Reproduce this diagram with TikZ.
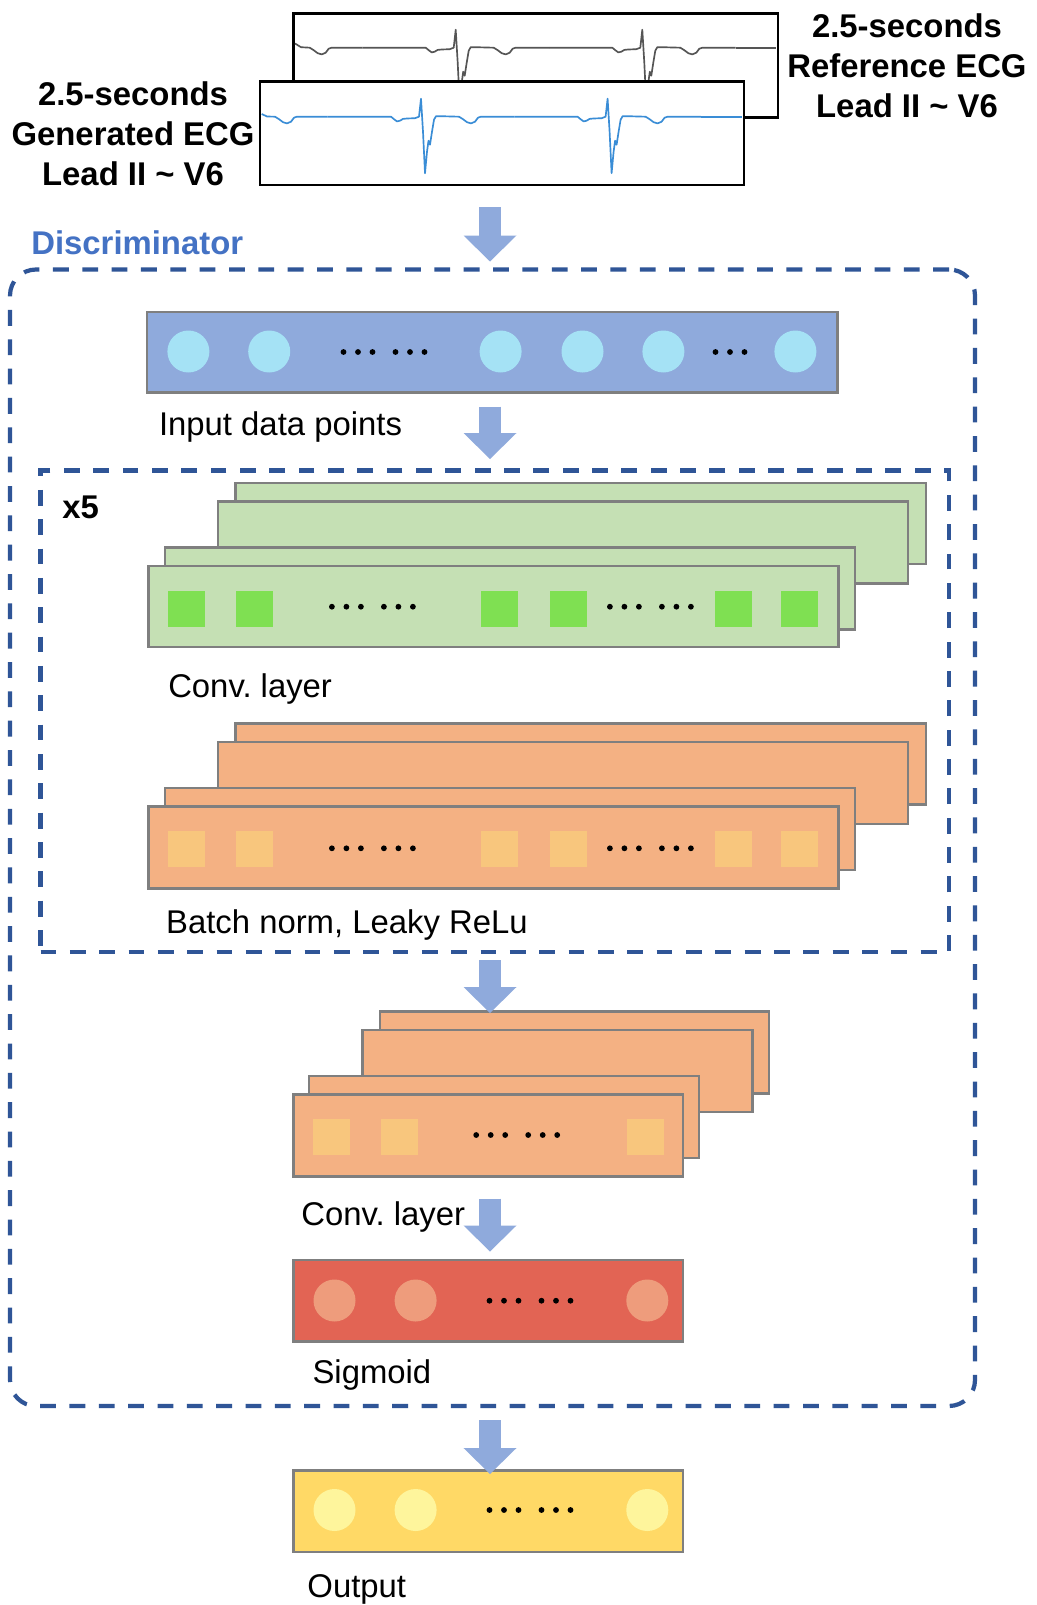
\documentclass[tikz,border=0pt]{standalone}
\usepackage{fontspec}
\setmainfont{Liberation Sans}
\usetikzlibrary{arrows.meta,fit}

\definecolor{dashblue}{HTML}{2F5597}
\definecolor{titleblue}{HTML}{4472C4}
\definecolor{arrowblue}{HTML}{8FAADC}
\definecolor{inputfill}{HTML}{8FAADC}
\definecolor{inputdot}{HTML}{A5E2F5}
\definecolor{layerline}{HTML}{7F7F7F}
\definecolor{convfill}{HTML}{C5E0B4}
\definecolor{convcell}{HTML}{7FE052}
\definecolor{bnfill}{HTML}{F4B183}
\definecolor{bncell}{HTML}{F8C67D}
\definecolor{sigfill}{HTML}{E26454}
\definecolor{sigdot}{HTML}{EE9C7C}
\definecolor{outfill}{HTML}{FFD966}
\definecolor{outdot}{HTML}{FEF59C}
\definecolor{ecggray}{HTML}{555555}
\definecolor{ecgblue}{HTML}{3A8DD6}

\frenchspacing

% six dots "... ..." centred at (#1,#2)
\newcommand{\sixdots}[2]{\foreach \d in {-40.5,-26,-11.5,11.5,26,40.5} {\fill ({#1+\d},#2) circle[radius=2.9];}}
% three dots "..." centred at (#1,#2)
\newcommand{\threedots}[2]{\foreach \d in {-14.5,0,14.5} {\fill ({#1+\d},#2) circle[radius=2.9];}}

\begin{document}
\begin{tikzpicture}[x=0.02cm,y=-0.02cm,
  txt/.style={anchor=west, inner sep=0pt, font=\fontsize{18.7}{22.7}\selectfont},
  boldtxt/.style={inner sep=0pt, align=center, font=\fontsize{18.7}{22.7}\selectfont\bfseries},
  ecgbox/.style={draw=black, fill=white, line width=1.4pt, inner sep=0pt},
  ecgref/.style={draw=ecggray, line width=0.95pt, line join=round},
  ecggen/.style={draw=ecgblue, line width=0.95pt, line join=round},
  dashbox/.style={draw=dashblue, line width=2.4pt, dash pattern=on 9pt off 7.7pt, inner sep=0pt},
  layer/.style={draw=layerline, line width=1.3pt, inner sep=0pt},
  blockarrow/.style={draw=arrowblue, line width=0.44cm,
    -{Triangle[width=1.06cm,length=0.52cm,line width=0pt]}},
  ecgbeat/.pic={
    \draw[#1] (-93.3,0) -- (-30,0) -- (-27,2.5) -- (-24,4.7) -- (-21,4) -- (-18,2.2)
      -- (-14,1.8) -- (-6,1.5) -- (-2,0) -- (0,-18) -- (2,15) -- (4,56.5) -- (6,35)
      -- (7.5,24) -- (9,28) -- (11,15) -- (13,3) -- (15,-0.5) -- (20,-0.5) -- (38,0)
      -- (42,2.5) -- (46,5.5) -- (50,6.7) -- (54,5) -- (57,1) -- (60,0) -- (93.3,0);
  }]

\fill[white] (0,0) rectangle (1037,1605);
\useasboundingbox (0,0) rectangle (1037,1605);

% ---- reference ECG strip ----
\node[ecgbox, fit={(293.5,13.5) (778,117.5)}] (refecg) {};
\draw[ecgref] (295,43.5) -- (301,47.2) -- (309.7,47.7) -- (313.7,50.2) -- (317.7,53.2)
  -- (321.7,54.4) -- (325.7,52.7) -- (328.7,48.7) -- (331.7,47.7) -- (362.4,47.7);
\pic at (455.7,47.7) {ecgbeat=ecgref};
\pic at (642.3,47.7) {ecgbeat=ecgref};
\draw[ecgref] (735.6,47.7) -- (775.7,47.7);

% ---- generated ECG strip ----
\node[ecgbox, fit={(260,81.5) (744,185)}] (genecg) {};
\draw[ecggen] (261.7,114) -- (267,116.5) -- (275,116.7) -- (279,119.2) -- (283,122.2)
  -- (287,123.4) -- (291,121.7) -- (294,117.7) -- (297,116.7) -- (327.7,116.7);
\pic at (421,116.7) {ecgbeat=ecggen};
\pic at (607.6,116.7) {ecgbeat=ecggen};
\draw[ecggen] (700.9,116.7) -- (741.7,116.7);

\node[boldtxt] (genlabel) at (133,134) {2.5-seconds\\Generated ECG\\Lead II \textasciitilde{} V6};
\node[boldtxt] (reflabel) at (907,65.5) {2.5-seconds\\Reference ECG\\Lead II \textasciitilde{} V6};

% ---- discriminator frame ----
\node[txt, font=\fontsize{18.7}{22.7}\selectfont\bfseries, text=titleblue] (disclabel) at (31,243) {Discriminator};
\node[dashbox, rounded corners=0.52cm, fit={(10,269.5) (975,1406)}] (disc) {};
\node[dashbox, fit={(40.5,470.5) (949,952)}] (repeat) {};
\node[txt, font=\fontsize{18.7}{22.7}\selectfont\bfseries] (times) at (62,507) {x5};

% ---- input layer ----
\node[layer, fill=inputfill, fit={(147,312) (837.5,392.5)}] (input) {};
\foreach \x in {188.4,269.2,500.6,582.5,663.4,795.4}
  \fill[inputdot] (\x,351.5) circle[radius=21];
\sixdots{384}{352}
\threedots{730}{352}
\node[txt] (inputlabel) at (158.7,427.5) {Input data points};

% ---- repeated convolution block ----
\node[layer, fill=convfill, fit={(235.5,483) (926,564)}] (convD) {};
\node[layer, fill=convfill, fit={(218,501.5) (908,583.5)}] (convC) {};
\node[layer, fill=convfill, fit={(165,547.5) (855,629.5)}] (convB) {};
\node[layer, fill=convfill, fit={(148.5,566) (838.5,647)}] (convA) {};
\foreach \x in {186.3,254,499.7,568.2,733,799.5}
  \fill[convcell] ({\x-18.5},590.5) rectangle ({\x+18.5},626.5);
\sixdots{372.4}{606.7}
\sixdots{650.4}{606.7}
\node[txt] (convlabel) at (167.9,688.5) {Conv. layer};

\node[layer, fill=bnfill, fit={(235.5,723.5) (926,804.5)}] (bnD) {};
\node[layer, fill=bnfill, fit={(218,742) (908,824)}] (bnC) {};
\node[layer, fill=bnfill, fit={(165,788) (855,870)}] (bnB) {};
\node[layer, fill=bnfill, fit={(148.5,806.5) (838.5,888.5)}] (bnA) {};
\foreach \x in {186.3,254,499.7,568.2,733,799.5}
  \fill[bncell] ({\x-18.5},831) rectangle ({\x+18.5},867);
\sixdots{372.4}{848.3}
\sixdots{650.4}{848.3}
\node[txt] (bnlabel) at (165.8,925.3) {Batch norm, Leaky ReLu};

% ---- final convolution ----
\node[layer, fill=bnfill, fit={(380,1011.5) (769,1093.5)}] (lastD) {};
\node[layer, fill=bnfill, fit={(362.5,1030) (752.5,1112)}] (lastC) {};
\node[layer, fill=bnfill, fit={(309,1076) (699,1158)}] (lastB) {};
\node[layer, fill=bnfill, fit={(293.5,1094.5) (683,1176.5)}] (lastA) {};
\foreach \x in {331,399.2,645}
  \fill[bncell] ({\x-18.5},1118.5) rectangle ({\x+18.5},1154.5);
\sixdots{516.7}{1135}
\node[txt] (lastlabel) at (301,1217) {Conv. layer};

% ---- sigmoid ----
\node[layer, fill=sigfill, fit={(293.5,1260) (683,1341.5)}] (sigmoid) {};
\foreach \x in {334.5,415.6,647.3}
  \fill[sigdot] (\x,1300.5) circle[radius=21];
\sixdots{530}{1300.7}
\node[txt] (siglabel) at (312.2,1374.5) {Sigmoid};

% ---- output ----
\node[layer, fill=outfill, fit={(293.5,1470.5) (683,1552)}] (output) {};
\foreach \x in {334.5,415.6,647.3}
  \fill[outdot] (\x,1510) circle[radius=21];
\sixdots{530}{1510}
\node[txt] (outlabel) at (307.1,1589.5) {Output};

% ---- flow arrows ----
\coordinate (a1s) at (490,207.5);  \coordinate (a1e) at (490,261.5);
\coordinate (a2s) at (490,406.5);  \coordinate (a2e) at (490,459);
\coordinate (a3s) at (490,960);    \coordinate (a3e) at (490,1013);
\coordinate (a4s) at (490,1198.5); \coordinate (a4e) at (490,1251.5);
\coordinate (a5s) at (490,1420);   \coordinate (a5e) at (490,1474);
\draw[blockarrow] (a1s) -- (a1e);
\draw[blockarrow] (a2s) -- (a2e);
\draw[blockarrow] (a3s) -- (a3e);
\draw[blockarrow] (a4s) -- (a4e);
\draw[blockarrow] (a5s) -- (a5e);
\end{tikzpicture}
\end{document}
